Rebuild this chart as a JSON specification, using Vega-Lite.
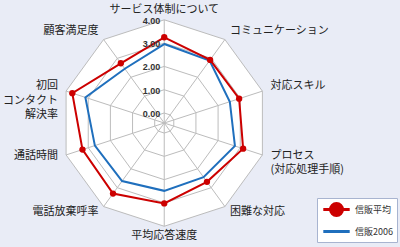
{
  "$schema": "https://vega.github.io/schema/vega-lite/v6.json",
  "width": 400,
  "height": 247,
  "autosize": {"type": "fit", "contains": "padding"},
  "padding": 0,
  "background": "#e9ecf6",
  "config": {"view": {"stroke": null}},
  "datasets": {
    "axes": [
      {"axis": "サービス体制について", "label": "サービス体制について"},
      {"axis": "コミュニケーション", "label": "コミュニケーション"},
      {"axis": "対応スキル", "label": "対応スキル"},
      {"axis": "プロセス(対応処理手順)", "label": "プロセス\n(対応処理手順)"},
      {"axis": "困難な対応", "label": "困難な対応"},
      {"axis": "平均応答速度", "label": "平均応答速度"},
      {"axis": "電話放棄呼率", "label": "電話放棄呼率"},
      {"axis": "通話時間", "label": "通話時間"},
      {"axis": "初回コンタクト解決率", "label": "初回\nコンタクト\n解決率"},
      {"axis": "顧客満足度", "label": "顧客満足度"}
    ],
    "scores": [
      {"series": "信販2006", "axis": "サービス体制について", "value": 2.96},
      {"series": "信販2006", "axis": "コミュニケーション", "value": 2.88},
      {"series": "信販2006", "axis": "対応スキル", "value": 2.53},
      {"series": "信販2006", "axis": "プロセス(対応処理手順)", "value": 2.76},
      {"series": "信販2006", "axis": "困難な対応", "value": 2.44},
      {"series": "信販2006", "axis": "平均応答速度", "value": 2.48},
      {"series": "信販2006", "axis": "電話放棄呼率", "value": 2.65},
      {"series": "信販2006", "axis": "通話時間", "value": 2.70},
      {"series": "信販2006", "axis": "初回コンタクト解決率", "value": 3.13},
      {"series": "信販2006", "axis": "顧客満足度", "value": 2.45},
      {"series": "信販平均", "axis": "サービス体制について", "value": 3.25},
      {"series": "信販平均", "axis": "コミュニケーション", "value": 2.92},
      {"series": "信販平均", "axis": "対応スキル", "value": 2.95},
      {"series": "信販平均", "axis": "プロセス(対応処理手順)", "value": 3.13},
      {"series": "信販平均", "axis": "困難な対応", "value": 2.69},
      {"series": "信販平均", "axis": "平均応答速度", "value": 3.02},
      {"series": "信販平均", "axis": "電話放棄呼率", "value": 3.31},
      {"series": "信販平均", "axis": "通話時間", "value": 3.26},
      {"series": "信販平均", "axis": "初回コンタクト解決率", "value": 3.72},
      {"series": "信販平均", "axis": "顧客満足度", "value": 2.74}
    ],
    "levels": [{"level": 0}, {"level": 1}, {"level": 2}, {"level": 3}, {"level": 4}]
  },
  "encoding": {
    "x": {"field": "x", "type": "quantitative", "scale": {"domain": [-7.05, 10.12], "nice": false, "zero": false}, "axis": null},
    "y": {"field": "y", "type": "quantitative", "scale": {"domain": [-5.32, 5.28], "nice": false, "zero": false}, "axis": null}
  },
  "layer": [
    {
      "data": {"name": "axes"},
      "transform": [
        {"window": [{"op": "row_number", "as": "i"}]},
        {"filter": "datum.i <= 6"},
        {"calculate": "(datum.i - 1) * PI / 5", "as": "a"},
        {"calculate": "sin(datum.a) * 4.43", "as": "x"},
        {"calculate": "cos(datum.a) * 4.43", "as": "y"},
        {"calculate": "-datum.x", "as": "xn"}
      ],
      "mark": {"type": "area", "orient": "horizontal", "color": "#ffffff", "opacity": 1},
      "encoding": {"x2": {"field": "xn"}}
    },
    {
      "data": {"name": "axes"},
      "transform": [
        {"window": [{"op": "row_number", "as": "i"}]},
        {"calculate": "[0,1,2,3,4]", "as": "lv"},
        {"flatten": ["lv"]},
        {"calculate": "(datum.i - 1) * PI / 5", "as": "a"},
        {"calculate": "sin(datum.a) * (datum.lv + 0.43)", "as": "x"},
        {"calculate": "cos(datum.a) * (datum.lv + 0.43)", "as": "y"}
      ],
      "mark": {"type": "line", "interpolate": "linear-closed", "color": "#bcbcbc", "strokeWidth": 1},
      "encoding": {"detail": {"field": "lv", "type": "nominal"}, "order": {"field": "i", "type": "quantitative"}}
    },
    {
      "data": {"name": "axes"},
      "transform": [
        {"window": [{"op": "row_number", "as": "i"}]},
        {"calculate": "(datum.i - 1) * PI / 5", "as": "a"},
        {"calculate": "sin(datum.a) * 4.43", "as": "x"},
        {"calculate": "cos(datum.a) * 4.43", "as": "y"}
      ],
      "mark": {"type": "rule", "color": "#bcbcbc", "strokeWidth": 1},
      "encoding": {"x2": {"datum": 0}, "y2": {"datum": 0}}
    },
    {
      "data": {"name": "scores"},
      "transform": [
        {"window": [{"op": "row_number", "as": "i"}], "groupby": ["series"]},
        {"calculate": "(datum.i - 1) * PI / 5", "as": "a"},
        {"calculate": "sin(datum.a) * (datum.value + 0.43)", "as": "x"},
        {"calculate": "cos(datum.a) * (datum.value + 0.43)", "as": "y"}
      ],
      "mark": {"type": "line", "interpolate": "linear-closed", "strokeWidth": 2},
      "encoding": {
        "order": {"field": "i", "type": "quantitative"},
        "color": {
          "field": "series", "type": "nominal",
          "scale": {"domain": ["信販平均", "信販2006"], "range": ["#cc0000", "#1f6fbd"]},
          "legend": {
            "title": null,
            "orient": "none",
            "legendX": 317,
            "legendY": 198,
            "padding": 4,
            "fillColor": "#ffffff",
            "strokeColor": "#a8b4d0",
            "labelFont": "Noto Sans CJK JP",
            "labelFontSize": 9,
            "labelColor": "#333333",
            "symbolSize": 144,
            "symbolStrokeWidth": 3,
            "symbolOffset": 8,
            "rowPadding": 2,
            "labelOffset": 11,
            "encode": {
              "symbols": {
                "update": {
                  "shape": {"signal": "datum.value === '信販平均' ? 'M-2.2,0L2.2,0M-1,0A1,1,0,1,1,1,0A1,1,0,1,1,-1,0Z' : 'M-2.2,0L2.2,0'"},
                  "fill": {"signal": "datum.value === '信販平均' ? '#cc0000' : 'transparent'"},
                  "strokeWidth": {"value": 3}
                }
              }
            }
          }
        }
      }
    },
    {
      "data": {"name": "scores"},
      "transform": [
        {"window": [{"op": "row_number", "as": "i"}], "groupby": ["series"]},
        {"filter": "datum.series === '信販平均'"},
        {"calculate": "(datum.i - 1) * PI / 5", "as": "a"},
        {"calculate": "sin(datum.a) * (datum.value + 0.43)", "as": "x"},
        {"calculate": "cos(datum.a) * (datum.value + 0.43)", "as": "y"}
      ],
      "mark": {"type": "point", "filled": true, "size": 40, "color": "#cc0000", "opacity": 1}
    },
    {
      "data": {"name": "levels"},
      "transform": [
        {"calculate": "0", "as": "x"},
        {"calculate": "datum.level + 0.43", "as": "y"}
      ],
      "mark": {"type": "text", "align": "right", "baseline": "middle", "dx": -4, "dy": 1, "font": "Liberation Sans", "fontWeight": "bold", "fontSize": 9, "color": "#333333"},
      "encoding": {"text": {"field": "level", "type": "quantitative", "format": ".2f"}}
    },
    {
      "data": {"name": "axes"},
      "transform": [
        {"window": [{"op": "row_number", "as": "i"}]},
        {"calculate": "(datum.i - 1) * PI / 5", "as": "a"},
        {"calculate": "sin(datum.a)", "as": "sx"},
        {"calculate": "sin(datum.a) * 4.8", "as": "x"},
        {"calculate": "cos(datum.a) * 4.8", "as": "y"}
      ],
      "mark": {
        "type": "text",
        "lineBreak": "\n",
        "font": "Noto Sans CJK JP",
        "fontSize": 11,
        "color": "#222222",
        "baseline": "middle",
        "lineHeight": 14.5,
        "align": {"expr": "abs(datum.sx) < 0.1 ? 'center' : (datum.sx > 0 ? 'left' : 'right')"},
        "dy": {"expr": "datum.i == 6 ? 1 : (datum.i == 1 ? -1 : -2)"}
      },
      "encoding": {"text": {"field": "label", "type": "nominal"}}
    }
  ]
}
